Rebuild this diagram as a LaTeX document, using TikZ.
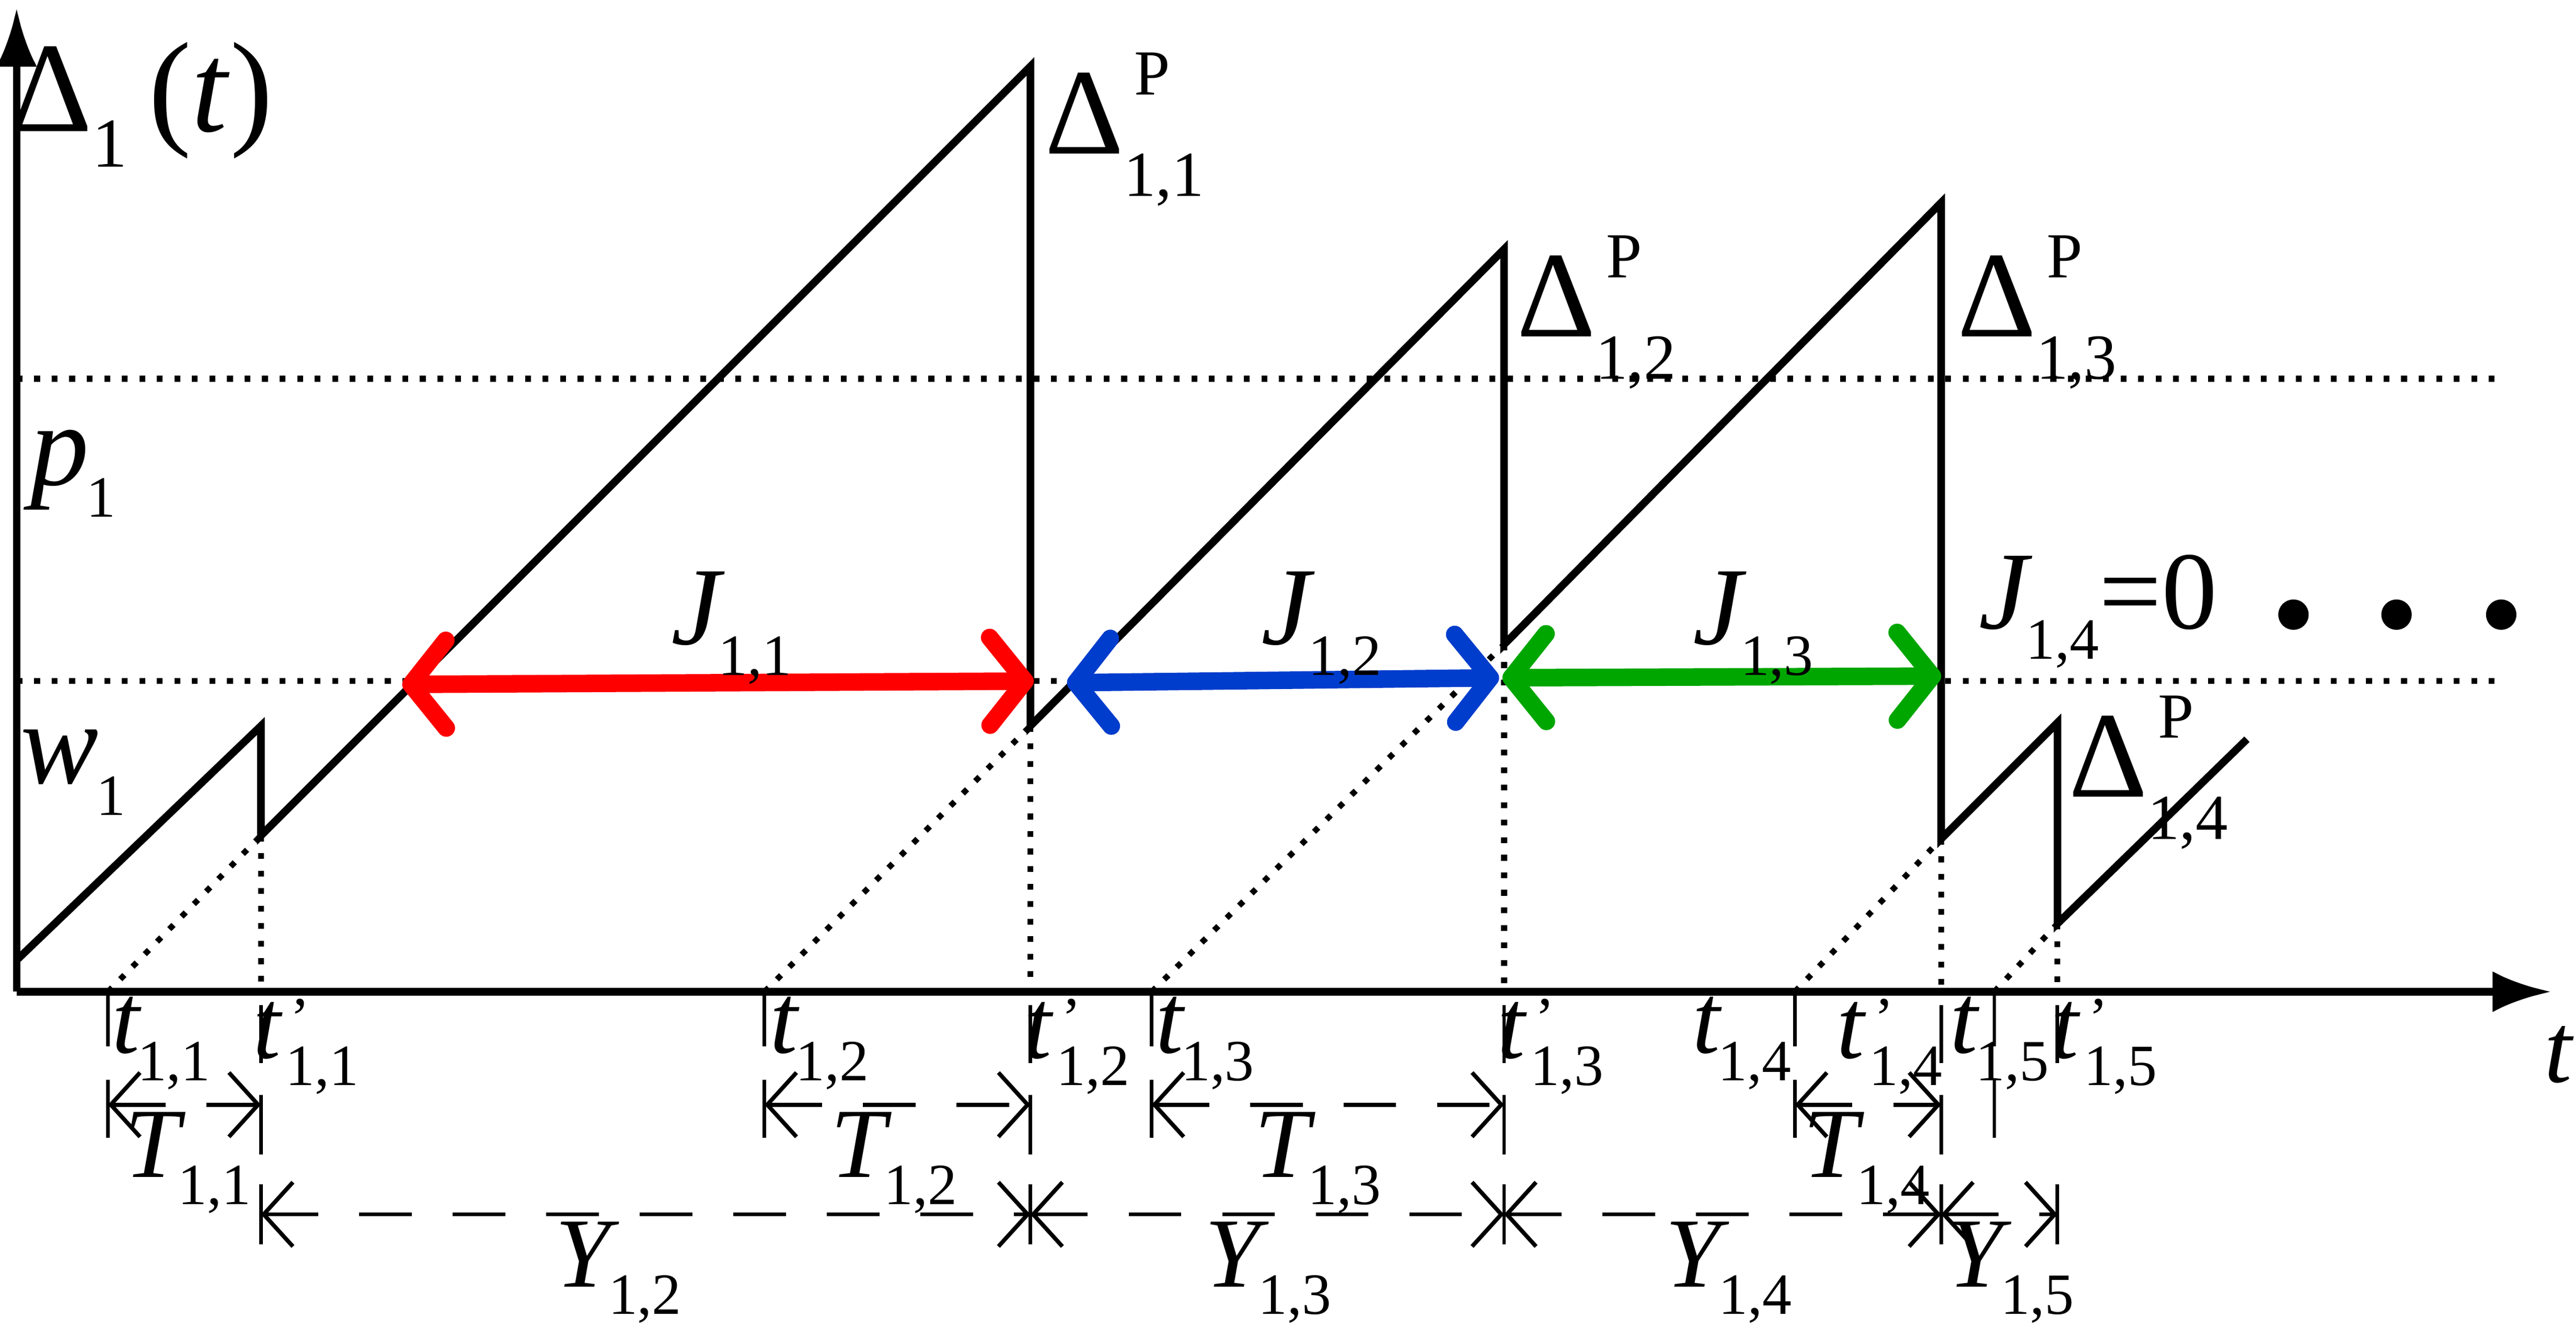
\documentclass[tikz,border=0pt]{standalone}
\usepackage{fontspec}
\setmainfont{Liberation Serif}
\usetikzlibrary{arrows.meta}

\newcommand{\vsym}[2]{{\itshape #1}\kern-0.02em\raisebox{-0.6ex}{\fontsize{10}{11}\selectfont #2}}
\newcommand{\vprime}[1]{{\itshape t}\rlap{\raisebox{0.45ex}{\fontsize{10}{11}\selectfont\,'}}\kern0.05em\raisebox{-0.6ex}{\fontsize{10}{11}\selectfont #1}}
\newcommand{\peak}[1]{Δ\rlap{\raisebox{1.05ex}{\fontsize{11}{12}\selectfont\,P}}\raisebox{-0.75ex}{\fontsize{11}{12}\selectfont #1}}

\begin{document}
\begin{tikzpicture}[x=0.01cm, y=-0.01cm,
    lbl/.style={inner sep=0pt, font=\fontsize{16}{18}\selectfont},
    saw/.style={line width=1.3pt, line join=miter},
    guide/.style={dotted, line width=1pt},
    tick/.style={line width=0.6pt},
    span/.style={dashed, dash pattern=on 9pt off 7pt, line width=0.7pt, {Straight Barb[length=5pt,width=11pt]}-{Straight Barb[length=5pt,width=11pt]}},
    jarrow/.style={line width=3pt, line cap=round, {Straight Barb[length=6pt,width=15pt,round]}-{Straight Barb[length=6pt,width=15pt,round]}}
]
\useasboundingbox (0,0) rectangle (1550,807);

% axes
\coordinate (o) at (10,597);
\coordinate (ytop) at (10,5);
\coordinate (xend) at (1535,597);
\draw[line width=1.3pt, -{Latex[length=10pt,width=7pt]}] (o) -- (ytop);
\draw[line width=1.3pt, -{Latex[length=10pt,width=7pt]}] (o) -- (xend);

% levels
\coordinate (p0) at (10,228); \coordinate (p1) at (1505,228);
\coordinate (w0) at (10,410); \coordinate (w1) at (1505,410);
\draw[guide] (p0) -- (p1);
\draw[guide] (w0) -- (w1);

% sawtooth
\coordinate (s0) at (10,578);
\coordinate (a1) at (157,437);  \coordinate (b1) at (157,503);
\coordinate (a2) at (620,40);   \coordinate (b2) at (620,437);
\coordinate (a3) at (905,150);  \coordinate (b3) at (905,388);
\coordinate (a4) at (1168,122); \coordinate (b4) at (1168,505);
\coordinate (a5) at (1238,435); \coordinate (b5) at (1238,556);
\coordinate (s6) at (1352,445);
\draw[saw] (s0) -- (a1) -- (b1) -- (a2) -- (b2) -- (a3) -- (b3) -- (a4) -- (b4) -- (a5) -- (b5) -- (s6);

% arrival and departure instants
\foreach \n/\x in {1/65, 2/460, 3/693, 4/1080, 5/1200}{
  \coordinate (t\n) at (\x,597);
  \draw[tick] (t\n) -- ++(0,33);
  \draw[tick] (\x,650) -- (\x,685);
}
\foreach \n/\x in {1/157, 2/620, 3/905, 4/1168, 5/1238}{
  \coordinate (u\n) at (\x,597);
  \draw[tick] (\x,605) -- (\x,640);
}
\draw[guide] (t1) -- (b1); \draw[guide] (t2) -- (b2); \draw[guide] (t3) -- (b3);
\draw[guide] (t4) -- (b4); \draw[guide] (t5) -- (b5);
\draw[guide] (b1) -- (u1); \draw[guide] (b2) -- (u2); \draw[guide] (b3) -- (u3);
\draw[guide] (b4) -- (u4); \draw[guide] (b5) -- (u5);

% T and Y spans
\foreach \x in {157, 620, 905, 1168}{ \draw[tick] (\x,659) -- (\x,695); }
\foreach \x in {157, 620, 905, 1168, 1238}{ \draw[tick] (\x,713) -- (\x,749); }
\foreach \n/\a/\b in {1/65/157, 2/460/620, 3/693/905, 4/1080/1168}{
  \coordinate (Tl\n) at (\a,665); \coordinate (Tr\n) at (\b,665);
  \draw[span] (Tl\n) -- (Tr\n);
}
\foreach \n/\a/\b in {2/157/620, 3/620/905, 4/905/1168, 5/1168/1238}{
  \coordinate (Yl\n) at (\a,731); \coordinate (Yr\n) at (\b,731);
  \draw[span] (Yl\n) -- (Yr\n);
}

% waiting spans
\coordinate (j1a) at (242,412); \coordinate (j1b) at (622,410);
\coordinate (j2a) at (642,411); \coordinate (j2b) at (902,408);
\coordinate (j3a) at (904,408); \coordinate (j3b) at (1168,407);
\draw[jarrow, red] (j1a) -- (j1b);
\draw[jarrow, blue!70!cyan!80!black] (j2a) -- (j2b);
\draw[jarrow, green!65!black] (j3a) -- (j3b);

% labels
\node[lbl, font=\fontsize{22}{24}\selectfont] (age) at (85,63) {Δ\raisebox{-0.6ex}{\fontsize{12}{13}\selectfont 1}\,(\textit{t})};
\node[lbl, font=\fontsize{20}{22}\selectfont] (plab) at (44,285) {\vsym{p}{1}};
\node[lbl, font=\fontsize{20}{22}\selectfont] (wlab) at (44,465) {\vsym{w}{1}};
\node[lbl, font=\fontsize{21}{23}\selectfont, anchor=west] (d1) at (628,78) {\peak{1,1}};
\node[lbl, font=\fontsize{21}{23}\selectfont, anchor=west] (d2) at (912,188) {\peak{1,2}};
\node[lbl, font=\fontsize{21}{23}\selectfont, anchor=west] (d3) at (1177,188) {\peak{1,3}};
\node[lbl, font=\fontsize{21}{23}\selectfont, anchor=west] (d4) at (1244,465) {\peak{1,4}};
\node[lbl, font=\fontsize{19}{21}\selectfont] (J1) at (440,378) {\vsym{J}{1,1}};
\node[lbl, font=\fontsize{19}{21}\selectfont] (J2) at (795,378) {\vsym{J}{1,2}};
\node[lbl, font=\fontsize{19}{21}\selectfont] (J3) at (1055,378) {\vsym{J}{1,3}};
\node[lbl, font=\fontsize{19}{21}\selectfont, anchor=west] (J4) at (1190,368) {\vsym{J}{1,4}=0};
\foreach \x in {1380, 1442, 1505}{ \fill (\x,370) circle (2.6pt); }
\node[lbl, font=\fontsize{17}{19}\selectfont] (tax) at (1540,635) {\textit{t}};

\foreach \n/\x in {1/97, 2/493, 3/725, 4/1048, 5/1203}{
  \node[lbl, font=\fontsize{17}{19}\selectfont] (tl\n) at (\x,628) {\vsym{t}{1,\n}};
}
\foreach \n/\x in {1/184, 2/648, 3/933, 4/1137, 5/1266}{
  \node[lbl, font=\fontsize{17}{19}\selectfont] (ul\n) at (\x,630) {\vprime{1,\n}};
}
\foreach \n/\x in {1/113, 2/538, 3/793, 4/1123}{
  \node[lbl, font=\fontsize{17}{19}\selectfont] (Tn\n) at (\x,700) {\vsym{T}{1,\n}};
}
\foreach \n/\x in {2/372, 3/763, 4/1040, 5/1210}{
  \node[lbl, font=\fontsize{17}{19}\selectfont] (Yn\n) at (\x,766) {\vsym{Y}{1,\n}};
}
\end{tikzpicture}
\end{document}
